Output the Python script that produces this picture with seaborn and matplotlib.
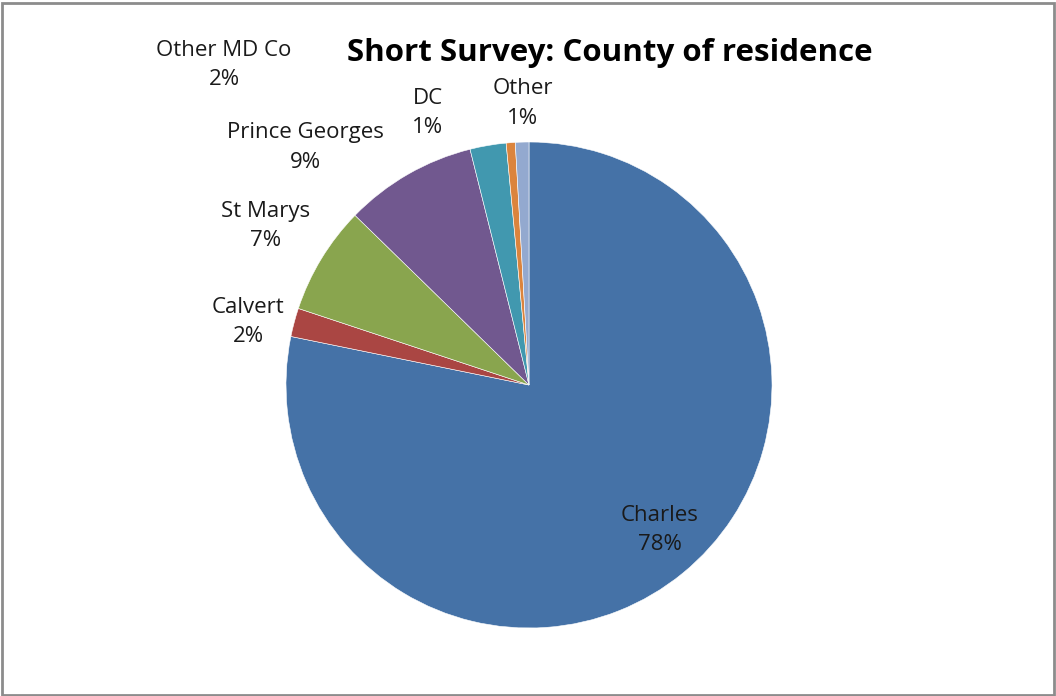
import matplotlib
matplotlib.use("Agg")
import matplotlib.pyplot as plt
import seaborn as sns
from matplotlib.patches import Rectangle

sns.set_theme(style="white")
plt.rcParams['font.family'] = ['Open Sans', 'DejaVu Sans']

categories = ["Charles", "Calvert", "St Marys", "Prince Georges", "Other MD Co", "DC", "Other"]
values = [78.2, 1.9, 7.2, 8.8, 2.4, 0.6, 0.9]
pct_labels = ["78%", "2%", "7%", "9%", "2%", "1%", "1%"]
colors = ["#4572A7", "#AA4643", "#89A54E", "#71588F", "#4198AF", "#DB843D", "#93A9CF"]

# label positions (data units, relative to pie centre/radius)
label_pos = [(0.539, -0.597), (-1.156, 0.259), (-1.086, 0.654), (-0.918, 0.979),
             (-1.255, 1.317), (-0.416, 1.119), (-0.025, 1.160)]

W, H = 1056, 696
fig = plt.figure(figsize=(W / 100, H / 100), dpi=100)
fig.patch.set_facecolor("white")

cx, cy, r = 529, 385, 243
ax = fig.add_axes([(cx - r) / W, (H - cy - r) / H, 2 * r / W, 2 * r / H])
ax.pie(values, colors=colors, startangle=90, counterclock=False,
       wedgeprops=dict(linewidth=0.4, edgecolor="white"))
ax.set_xlim(-1, 1)
ax.set_ylim(-1, 1)
ax.set_aspect("equal")
ax.axis("off")

for name, pct, (x, y) in zip(categories, pct_labels, label_pos):
    ax.text(x, y, f"{name}\n{pct}", ha="center", va="center", fontsize=16,
            color="#1a1a1a", linespacing=1.55, clip_on=False)

fig.text(610 / W, 1 - 53 / H, "Short Survey: County of residence", ha="center", va="center",
         fontsize=22.5, fontweight="bold", color="black")

fig.patches.append(Rectangle((2 / W, 1 / H), 1052 / W, 692 / H, transform=fig.transFigure,
                             fill=False, edgecolor="#8c8c8c", linewidth=2))

fig.savefig("out.png", dpi=100)
